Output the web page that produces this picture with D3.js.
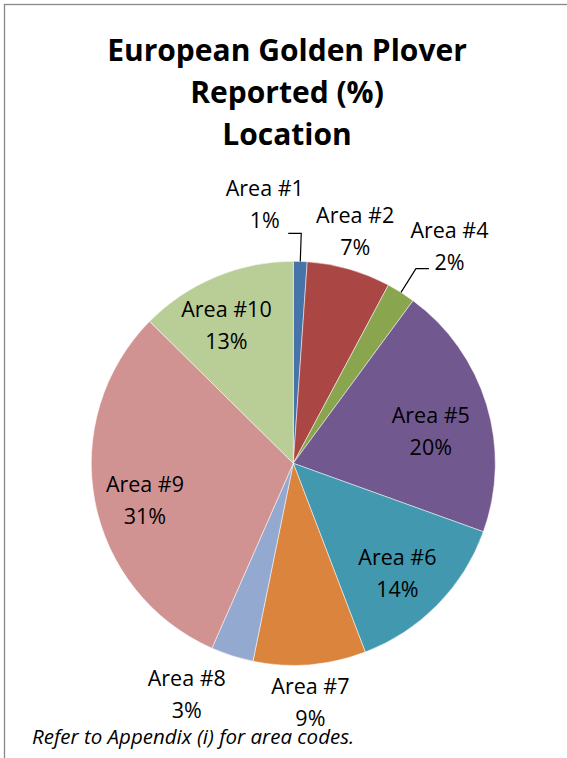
<!DOCTYPE html>
<html>
<head>
<meta charset="utf-8">
<script src="https://cdn.jsdelivr.net/npm/d3@7"></script>
<style>
  body { margin: 0; background: #fff; }
  text { font-family: "Open Sans", "Noto Sans", sans-serif; fill: #000; }
</style>
</head>
<body>
<div id="chart"></div>
<script>
'use strict';

// Chart data
const areas = ["Area #1", "Area #2", "Area #4", "Area #5", "Area #6", "Area #7", "Area #8", "Area #9", "Area #10"];
const shares = [1.1, 6.7, 2.3, 20.4, 13.7, 9.0, 3.4, 30.8, 12.6];
const sliceColors = ["#4673A8", "#AA4643", "#89A54E", "#71588F", "#4198AF", "#DB843D", "#93A9CF", "#D19392", "#B9CD96"];
const titleLines = ["European Golden Plover", "Reported (%)", "Location"];
const footnote = "Refer to Appendix (i) for area codes.";

(function() {
    var width = 567, height = 758;
    var cx = 293.3, cy = 463.3, radius = 202;

    // labels that sit outside the pie, and the ones that need a leader line
    var outside = ["Area #1", "Area #2", "Area #4", "Area #7", "Area #8"];
    var leaders = ["Area #1", "Area #4"];
    // small shifts so labels land where Excel's "best fit" put them
    var nudge = {
        "Area #1": [-37, -12], "Area #2": [-6, 5], "Area #4": [25, -8],
        "Area #5": [-6, 12], "Area #6": [-3, 6], "Area #7": [-3, -5],
        "Area #8": [-32, -3], "Area #9": [-1, 10], "Area #10": [-9, 1]
    };

    var svg = d3.select("#chart")
        .append("svg")
            .attr("width", width)
            .attr("height", height);

    // chart area border (only top and left edges fall inside the picture)
    svg.append("rect")
        .attr("x", 4.5)
        .attr("y", 4.5)
        .attr("width", width + 20)
        .attr("height", height + 20)
        .attr("fill", "none")
        .attr("stroke", "#878787")
        .attr("stroke-width", 1.3);

    // Title
    svg.append("text")
        .attr("x", 287)
        .attr("y", 61)
        .attr("text-anchor", "middle")
        .attr("font-size", "30px")
        .attr("font-weight", "bold")
        .selectAll("tspan")
        .data(titleLines)
        .enter()
        .append("tspan")
            .attr("x", 287)
            .attr("dy", function(d, i) { return i === 0 ? 0 : 42; })
            .text(function(d) { return d; });

    var data = areas.map(function(name, i) {
        return { name: name, value: shares[i], color: sliceColors[i] };
    });

    var pie = d3.pie()
        .sort(null)
        .value(function(d) { return d.value; });

    var arc = d3.arc().innerRadius(0).outerRadius(radius);
    var edgeArc = d3.arc().innerRadius(radius).outerRadius(radius);
    var elbowArc = d3.arc().innerRadius(230).outerRadius(230);
    var inLabelArc = d3.arc().innerRadius(150).outerRadius(150);
    var outLabelArc = d3.arc().innerRadius(246).outerRadius(246);

    var g = svg.append("g")
        .attr("transform", "translate(" + cx + "," + cy + ")");

    var arcs = pie(data);

    // Slices
    g.selectAll("path.slice")
        .data(arcs)
        .enter()
        .append("path")
            .attr("class", "slice")
            .attr("d", arc)
            .attr("fill", function(d) { return d.data.color; })
            .attr("stroke", "#fff")
            .attr("stroke-width", 0.5);

    function labelCenter(d) {
        var c = (outside.indexOf(d.data.name) >= 0 ? outLabelArc : inLabelArc).centroid(d);
        var n = nudge[d.data.name] || [0, 0];
        return [c[0] + n[0], c[1] + n[1]];
    }

    // Leader lines
    arcs.filter(function(d) { return leaders.indexOf(d.data.name) >= 0; })
        .forEach(function(d) {
            var p0 = edgeArc.centroid(d);
            var p1 = elbowArc.centroid(d);
            var lc = labelCenter(d);
            var dir = lc[0] < p1[0] ? -1 : 1;
            var p2 = [p1[0] + dir * 13, p1[1]];
            g.append("path")
                .attr("d", d3.line()([p0, p1, p2]))
                .attr("fill", "none")
                .attr("stroke", "#000")
                .attr("stroke-width", 1.2);
        });

    // Data labels: name and rounded percent
    var labels = g.selectAll("text.label")
        .data(arcs)
        .enter()
        .append("text")
            .attr("class", "label")
            .attr("text-anchor", "middle")
            .attr("font-size", "21.5px")
            .attr("transform", function(d) {
                var c = labelCenter(d);
                return "translate(" + c[0] + "," + c[1] + ")";
            });

    labels.append("tspan")
        .attr("x", 0)
        .attr("y", -9)
        .text(function(d) { return d.data.name; });

    labels.append("tspan")
        .attr("x", 0)
        .attr("y", 23)
        .text(function(d) { return Math.round(d.data.value) + "%"; });

    // Footnote
    svg.append("text")
        .attr("x", 32)
        .attr("y", 744)
        .attr("font-size", "20.5px")
        .attr("font-style", "italic")
        .text(footnote);
})();
</script>
</body>
</html>
